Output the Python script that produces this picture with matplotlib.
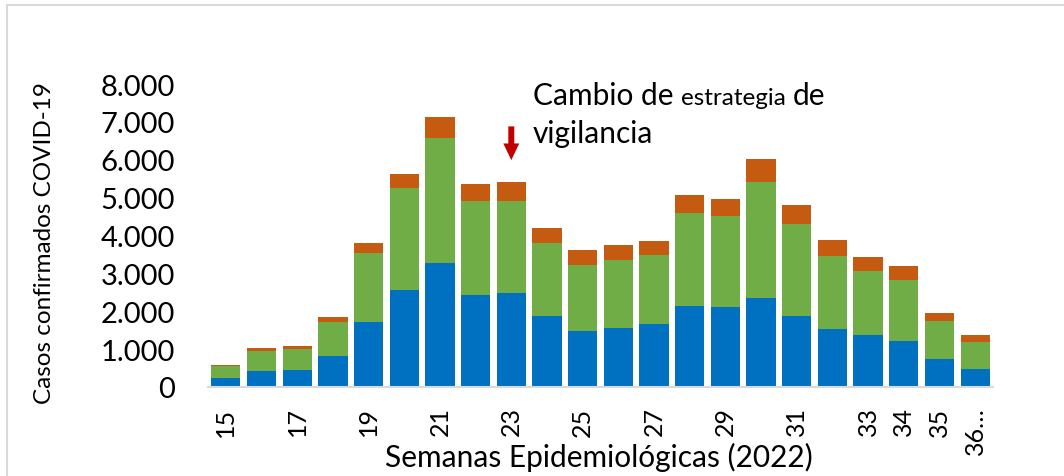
import matplotlib
matplotlib.use("Agg")
import matplotlib.pyplot as plt
from matplotlib.lines import Line2D
from matplotlib.ticker import FuncFormatter

plt.rcParams['font.family'] = ['Lato', 'DejaVu Sans']

# semanas epidemiologicas 15 - 36 (2022)
weeks = list(range(15, 37))
xtick_labels = ["15", "", "17", "", "19", "", "21", "", "23", "", "25", "", "27", "",
                "29", "", "31", "", "33", "34", "35", "36…"]
blue = [227, 412, 438, 807, 1705, 2567, 3272, 2417, 2470, 1863, 1478, 1557, 1662,
        2127, 2100, 2338, 1863, 1538, 1380, 1222, 728, 464]
green = [317, 546, 572, 898, 1846, 2699, 3314, 2506, 2453, 1952, 1741, 1783, 1810,
         2480, 2412, 3087, 2446, 1908, 1681, 1609, 1013, 731]
orange = [44, 79, 80, 142, 264, 362, 554, 441, 502, 388, 385, 396, 370,
          475, 464, 591, 493, 422, 369, 370, 201, 177]

W, H = 1064, 477
fig = plt.figure(figsize=(W / 100, H / 100), dpi=100)
ax = fig.add_axes([208 / W, 89 / H, 785 / W, 303 / H])

x = list(range(len(weeks)))
bottom2 = [b + g for b, g in zip(blue, green)]
ax.bar(x, blue, width=0.82, color="#0070c0")
ax.bar(x, green, width=0.82, bottom=blue, color="#70ad47")
ax.bar(x, orange, width=0.82, bottom=bottom2, color="#c55a11")

ax.set_xlim(-0.5, len(weeks) - 0.5)
ax.set_ylim(0, 8000)
ax.set_yticks(range(0, 8001, 1000))
ax.yaxis.set_major_formatter(FuncFormatter(lambda v, p: f"{int(v):,}".replace(",", ".")))
ax.set_xticks(x)
ax.set_xticklabels(xtick_labels, rotation=90)
ax.tick_params(axis="y", length=0, pad=24, labelsize=21)
ax.tick_params(axis="x", length=0, pad=14, labelsize=18)

for s in ["top", "right", "left"]:
    ax.spines[s].set_visible(False)
ax.spines["bottom"].set_color("#d9d9d9")
ax.spines["bottom"].set_linewidth(1.5)

fig.text(45 / W, 1 - 243 / H, "Casos confirmados COVID-19", rotation=90,
         ha="center", va="center", fontsize=17.5)
fig.text(599 / W, (H - 467) / H, "Semanas Epidemiológicas (2022)",
         ha="center", va="baseline", fontsize=21.5)

# arrow marking the change of strategy (week 23)
ax.annotate("", xy=(8, 5990), xytext=(8, 6880),
            arrowprops=dict(width=4.3, headwidth=11.5, headlength=12, shrink=0,
                            color="#c00000", linewidth=0))

# annotation text with mixed sizes
y0 = (H - 105) / H
t1 = fig.text(533 / W, y0, "Cambio de", fontsize=21.5, va="baseline")
fig.canvas.draw()
r = fig.canvas.get_renderer()
bb = t1.get_window_extent(r)
t2 = fig.text((bb.x1 + 7) / W, y0, "estrategia", fontsize=17.5, va="baseline")
bb2 = t2.get_window_extent(r)
fig.text((bb2.x1 + 7) / W, y0, "de", fontsize=21.5, va="baseline")
fig.text(533 / W, (H - 142.5) / H, "vigilancia", fontsize=21.5, va="baseline")

# light frame
fig.add_artist(Line2D([7 / W, 1], [1 - 6 / H, 1 - 6 / H], transform=fig.transFigure,
                      color="#d9d9d9", lw=1.5))
fig.add_artist(Line2D([7 / W, 7 / W], [0, 1 - 6 / H], transform=fig.transFigure,
                      color="#d9d9d9", lw=1.5))

fig.savefig("out.png", dpi=100)
